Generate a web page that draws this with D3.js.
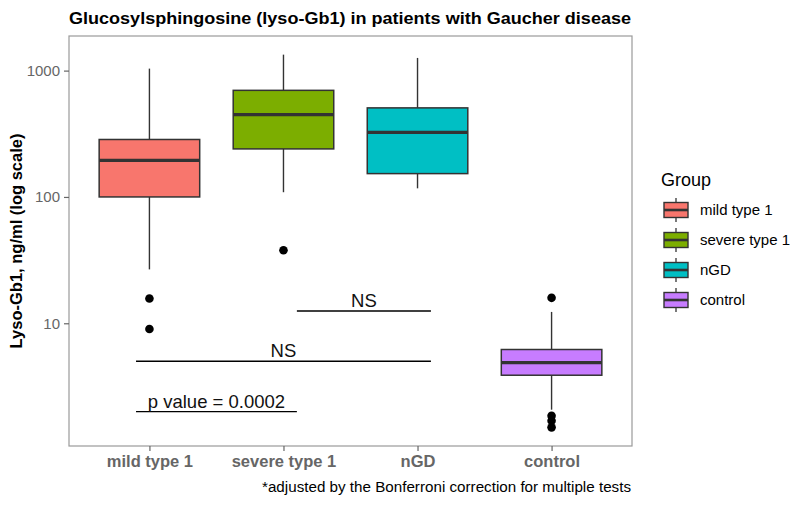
<!DOCTYPE html>
<html><head><meta charset="utf-8">
<script src="https://cdn.jsdelivr.net/npm/d3@7"></script>
<style>body{margin:0;background:#fff;} svg{display:block;}</style>
</head><body>
<svg id="c" width="796" height="505"></svg>
<script>
const categories = ["mild type 1", "severe type 1", "nGD", "control"];
const colors = ["#F8766D", "#7CAE00", "#00BFC4", "#C77CFF"];
const lowerWhisker = [26.7, 109, 117, 2.07];
const q1 = [100, 240, 153, 3.88];
const median = [195, 449, 325, 4.88];
const q3 = [285, 698, 507, 6.2];
const upperWhisker = [1037, 1338, 1260, 12.3];
const outliers = [[15.7, 9.0], [37.8], [], [15.9, 1.85, 1.69, 1.50]];
const yTicks = [10, 100, 1000];
const brackets = [
  {from: 2.1, to: 3.1, y: 12.5, label: "NS", lx: 2.6},
  {from: 0.9, to: 3.1, y: 5, label: "NS", lx: 2.0},
  {from: 0.9, to: 2.1, y: 2, label: "p value = 0.0002", lx: 1.5}
];

const svg = d3.select("#c");
const L = 69, R = 632, T = 36, B = 446;

const allVals = lowerWhisker.concat(upperWhisker, outliers.flat());
const lmin = Math.log10(d3.min(allVals)), lmax = Math.log10(d3.max(allVals));
const pad = (lmax - lmin) * 0.05;
const y = d3.scaleLog().domain([Math.pow(10, lmin - pad), Math.pow(10, lmax + pad)]).range([B, T]);
const x = d3.scaleLinear().domain([0.4, 4.6]).range([L, R]);
const band = x(1.375) - x(1);

// title
svg.append("text").attr("x", L).attr("y", 23.5)
  .attr("font-family", "Liberation Sans, Arial, sans-serif").attr("font-weight", "bold")
  .attr("font-size", 16.5).attr("textLength", R - L - 1).attr("lengthAdjust", "spacingAndGlyphs")
  .text("Glucosylsphingosine (lyso-Gb1) in patients with Gaucher disease");

// panel border
svg.append("rect").attr("x", L).attr("y", T).attr("width", R - L).attr("height", B - T)
  .attr("fill", "none").attr("stroke", "#9a9a9a").attr("stroke-width", 1.2);

// y axis
const yAxis = d3.axisLeft(y).tickValues(yTicks).tickFormat(d3.format("d")).tickSize(5).tickPadding(4);
const ya = svg.append("g").attr("transform", `translate(${L},0)`).call(yAxis);
ya.select(".domain").remove();
ya.selectAll(".tick line").attr("stroke", "#666").attr("stroke-width", 1.2);
ya.selectAll(".tick text").attr("fill", "#666").attr("font-size", 15)
  .attr("font-family", "Liberation Sans, Arial, sans-serif");

// x axis
const xAxis = d3.axisBottom(x).tickValues([1, 2, 3, 4]).tickFormat((d) => categories[d - 1]).tickSize(5).tickPadding(4);
const xa = svg.append("g").attr("transform", `translate(0,${B})`).call(xAxis);
xa.select(".domain").remove();
xa.selectAll(".tick line").attr("stroke", "#666").attr("stroke-width", 1.2);
xa.selectAll(".tick text").attr("fill", "#666").attr("font-size", 16.5).attr("font-weight", "bold")
  .attr("font-family", "Liberation Sans, Arial, sans-serif");

// y title
svg.append("text").attr("transform", `translate(22,${(T + B) / 2}) rotate(-90)`)
  .attr("text-anchor", "middle").attr("font-size", 16.5).attr("font-weight", "bold")
  .attr("font-family", "Liberation Sans, Arial, sans-serif")
  .text("Lyso-Gb1, ng/ml (log scale)");

// boxes
const g = svg.append("g");
categories.forEach((c, i) => {
  const cx = x(i + 1);
  const stroke = "#333333";
  g.append("line").attr("x1", cx).attr("x2", cx).attr("y1", y(upperWhisker[i])).attr("y2", y(q3[i]))
    .attr("stroke", stroke).attr("stroke-width", 1.4);
  g.append("line").attr("x1", cx).attr("x2", cx).attr("y1", y(q1[i])).attr("y2", y(lowerWhisker[i]))
    .attr("stroke", stroke).attr("stroke-width", 1.4);
  g.append("rect").attr("x", cx - band).attr("width", 2 * band)
    .attr("y", y(q3[i])).attr("height", y(q1[i]) - y(q3[i]))
    .attr("fill", colors[i]).attr("stroke", stroke).attr("stroke-width", 1.5);
  g.append("line").attr("x1", cx - band).attr("x2", cx + band).attr("y1", y(median[i])).attr("y2", y(median[i]))
    .attr("stroke", stroke).attr("stroke-width", 3.2);
  outliers[i].forEach(v => {
    g.append("circle").attr("cx", cx).attr("cy", y(v)).attr("r", 4.3).attr("fill", "#000");
  });
});

// brackets
brackets.forEach(b => {
  svg.append("line").attr("x1", x(b.from)).attr("x2", x(b.to)).attr("y1", y(b.y)).attr("y2", y(b.y))
    .attr("stroke", "#000").attr("stroke-width", 1.4);
  svg.append("text").attr("x", x(b.lx)).attr("y", y(b.y) - 4).attr("text-anchor", "middle")
    .attr("font-size", 18.5).attr("font-family", "Liberation Sans, Arial, sans-serif")
    .attr("fill", "#111").text(b.label);
});

// caption
svg.append("text").attr("x", R - 1).attr("y", 492).attr("text-anchor", "end")
  .attr("font-size", 14).attr("font-family", "Liberation Sans, Arial, sans-serif")
  .attr("textLength", 369).attr("lengthAdjust", "spacingAndGlyphs")
  .text("*adjusted by the Bonferroni correction for multiple tests");

// legend
const lg = svg.append("g");
lg.append("text").attr("x", 661).attr("y", 186).attr("font-size", 18)
  .attr("font-family", "Liberation Sans, Arial, sans-serif").text("Group");
categories.forEach((c, i) => {
  const cy = 210 + i * 30, cx = 676;
  lg.append("line").attr("x1", cx).attr("x2", cx).attr("y1", cy - 12).attr("y2", cy + 12)
    .attr("stroke", "#333").attr("stroke-width", 1.3);
  lg.append("rect").attr("x", cx - 12).attr("y", cy - 7.5).attr("width", 24).attr("height", 15)
    .attr("fill", colors[i]).attr("stroke", "#333").attr("stroke-width", 1.4);
  lg.append("line").attr("x1", cx - 12).attr("x2", cx + 12).attr("y1", cy).attr("y2", cy)
    .attr("stroke", "#333").attr("stroke-width", 2.6);
  lg.append("text").attr("x", 700).attr("y", cy + 5).attr("font-size", 15)
    .attr("font-family", "Liberation Sans, Arial, sans-serif").text(c);
});
</script>
</body></html>
